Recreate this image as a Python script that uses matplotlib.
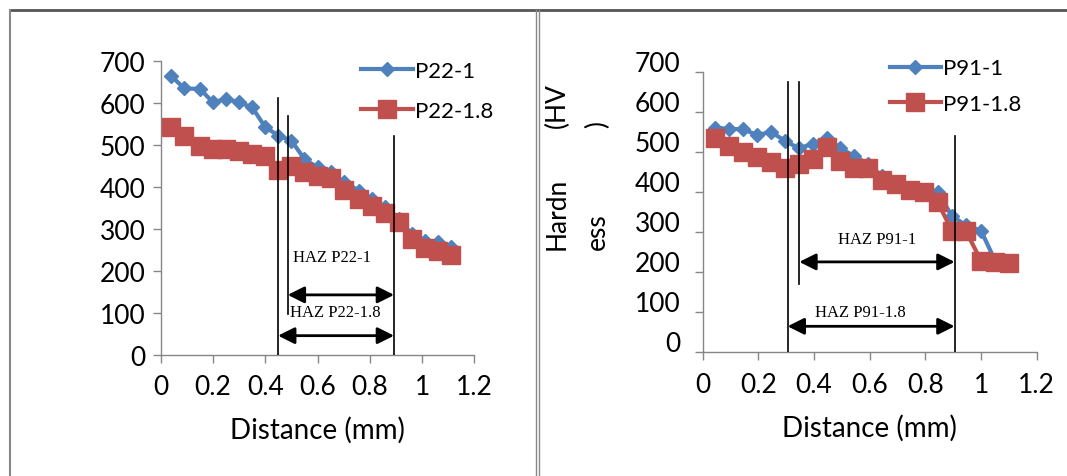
import matplotlib.pyplot as plt
from matplotlib.lines import Line2D
from matplotlib.transforms import ScaledTranslation

plt.rcParams['font.family'] = ['Lato', 'DejaVu Sans']

# left chart: P22 samples
p22_dist = [0.04, 0.09, 0.15, 0.20, 0.25, 0.30, 0.35, 0.40, 0.45, 0.50, 0.55,
            0.60, 0.65, 0.70, 0.76, 0.81, 0.86, 0.91, 0.96, 1.01, 1.06, 1.11]
p22_1 = [664, 634, 633, 601, 609, 601, 589, 542, 522, 510, 466,
         446, 435, 411, 391, 371, 351, 324, 288, 272, 268, 258]
p22_18 = [542, 520, 496, 490, 490, 486, 478, 473, 440, 449, 435,
          425, 420, 393, 371, 354, 338, 317, 276, 254, 248, 238]

# right chart: P91 samples
p91_dist = [0.045, 0.095, 0.145, 0.195, 0.245, 0.295, 0.345, 0.395, 0.445, 0.495, 0.545,
            0.595, 0.645, 0.695, 0.745, 0.795, 0.845, 0.895, 0.945, 1.0, 1.05, 1.10]
p91_1 = [562, 558, 558, 543, 551, 529, 510, 521, 537, 510, 490,
         470, 440, 425, 412, 405, 400, 341, 318, 304, 230, 224]
p91_18 = [537, 517, 502, 489, 475, 460, 472, 484, 513, 479, 460,
          460, 431, 420, 407, 400, 375, 304, 304, 229, 225, 223]

# HAZ boundaries (distance, top of line) and arrows (from, to, height)
p22_bounds = [(0.448, 611), (0.486, 569), (0.893, 522)]
p22_bound_bottom = [0, 97, 0]
p22_haz = [("HAZ P22-1", 0.486, 0.893, 143, 0.657, 232),
           ("HAZ P22-1.8", 0.449, 0.893, 46, 0.667, 102)]
p91_bounds = [(0.305, 675), (0.347, 675), (0.905, 541)]
p91_bound_bottom = [0, 171, 0]
p91_haz = [("HAZ P91-1", 0.347, 0.905, 226, 0.627, 283),
           ("HAZ P91-1.8", 0.305, 0.905, 65, 0.565, 100)]

yticks = [0, 100, 200, 300, 400, 500, 600, 700]
xticks = [0, 0.2, 0.4, 0.6, 0.8, 1.0, 1.2]
xticklabels = ["0", "0.2", "0.4", "0.6", "0.8", "1", "1.2"]

BLUE = "#4F81BD"
RED = "#C0504D"
GRAY = "#868686"

W, H = 1067, 477
fig = plt.figure(figsize=(W / 100, H / 100), dpi=100)


def px_rect(x0, x1, y_bottom, y_top):
    return [x0 / W, 1 - y_bottom / H, (x1 - x0) / W, (y_bottom - y_top) / H]


def style_axes(ax, ylabel_pad):
    ax.set_xlim(0, 1.2)
    ax.set_ylim(0, 700)
    ax.set_xticks(xticks)
    ax.set_xticklabels(xticklabels)
    ax.set_yticks(yticks)
    for s in ("top", "right"):
        ax.spines[s].set_visible(False)
    for s in ("left", "bottom"):
        ax.spines[s].set_color(GRAY)
        ax.spines[s].set_linewidth(1)
    ax.tick_params(axis="both", colors=GRAY, labelcolor="black",
                   labelsize=19, length=6, width=1)
    ax.tick_params(axis="x", pad=8)
    ax.tick_params(axis="y", pad=ylabel_pad)
    ax.set_xlabel("Distance (mm)", fontsize=20, labelpad=12)


def draw_chart(ax, dist, s1, s2, lab1, lab2, bounds, bottoms, haz):
    ax.plot(dist, s1, color=BLUE, lw=3, marker="D", ms=7.5, label=lab1, zorder=3)
    ax.plot(dist, s2, color=RED, lw=3, marker="s", ms=13.5, label=lab2, zorder=4)
    for (bx, top), bot in zip(bounds, bottoms):
        ax.plot([bx, bx], [bot, top], color="black", lw=1.2, zorder=5)
    for text, x0, x1, yy, tx, ty in haz:
        ax.annotate("", xy=(x1, yy), xytext=(x0, yy),
                    arrowprops=dict(arrowstyle="<|-|>,head_length=0.4,head_width=0.2",
                                    mutation_scale=25, lw=2, color="black",
                                    shrinkA=0, shrinkB=0), zorder=6)
        ax.text(tx, ty, text, ha="center", va="center", fontsize=12,
                family="Liberation Serif", zorder=6)


ax1 = fig.add_axes(px_rect(160.7, 474.3, 356, 61.7))
draw_chart(ax1, p22_dist, p22_1, p22_18, "P22-1", "P22-1.8",
           p22_bounds, p22_bound_bottom, p22_haz)
style_axes(ax1, 5)
ax1.legend(loc="upper left", bbox_to_anchor=(0.64, 1.0), frameon=False,
           fontsize=16, handlelength=2.3, handletextpad=0.1, labelspacing=0.9,
           borderpad=0, borderaxespad=0)

ax2 = fig.add_axes(px_rect(702.7, 1036.7, 353.3, 73.3))
draw_chart(ax2, p91_dist, p91_1, p91_18, "P91-1", "P91-1.8",
           p91_bounds, p91_bound_bottom, p91_haz)
style_axes(ax2, 10)
ax2.legend(loc="upper left", bbox_to_anchor=(0.56, 1.05), frameon=False,
           fontsize=16, handlelength=2.3, handletextpad=0.1, labelspacing=0.7,
           borderpad=0, borderaxespad=0)
# tick labels on the right chart sit a little above their ticks
for lab in ax2.get_yticklabels():
    lab.set_transform(lab.get_transform() + ScaledTranslation(0, 0.11, fig.dpi_scale_trans))

# wrapped y label of the right chart
for txt, x, y in [("Hardn", 557, 250), ("ess", 597, 250), ("(HV", 557, 128), (")", 598, 128)]:
    fig.text(x / W, 1 - y / H, txt, rotation=90, ha="center", va="bottom", fontsize=19)

# table borders
fig.add_artist(Line2D([10 / W, 1], [1 - 11 / H, 1 - 11 / H], color="#555555", lw=2))
fig.add_artist(Line2D([10 / W, 10 / W], [0, 1 - 11 / H], color="#888888", lw=1.5))
for xb in (535.7, 539.3):
    fig.add_artist(Line2D([xb / W, xb / W], [0, 1 - 11 / H], color="#888888", lw=1))

fig.savefig("out.png", dpi=100)
